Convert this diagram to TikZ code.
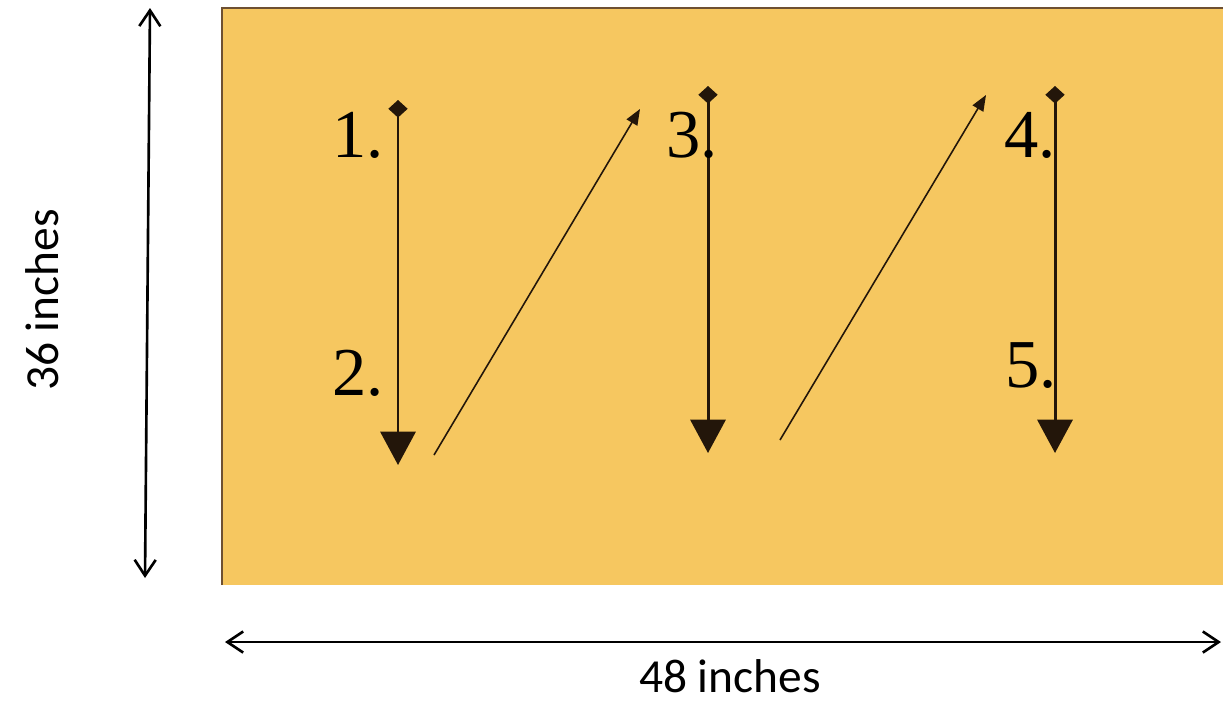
\documentclass[tikz,border=0pt]{standalone}
\usepackage{fontspec}
\setmainfont{Liberation Serif}
\newfontfamily\dimfont{Carlito}
\usetikzlibrary{arrows.meta}
\definecolor{boardfill}{RGB}{246,199,96}
\definecolor{boardedge}{RGB}{110,80,50}
\definecolor{inkline}{RGB}{35,22,10}
\begin{document}
\begin{tikzpicture}[x=0.02cm,y=-0.02cm,
    stroke/.style={draw=inkline,line width=1.7pt,{Diamond[width=11pt,length=10pt]}-{Triangle[width=20pt,length=19pt]}},
    jump/.style={draw=inkline,line width=0.9pt,-{Triangle[width=7pt,length=9pt]}},
    dimline/.style={line width=1.5pt,{Straight Barb[length=9pt,width=12pt]}-{Straight Barb[length=9pt,width=12pt]}},
    numlabel/.style={font=\fontsize{39}{42}\selectfont,inner sep=0pt,anchor=base west},
    dimlabel/.style={font=\dimfont\fontsize{27}{30}\selectfont,inner sep=0pt}]
  \useasboundingbox (0,0) rectangle (1223,704);
  % board
  \fill[boardfill] (222,8) rectangle (1223,585);
  \draw[boardedge,line width=1.2pt] (222,585) -- (222,8) -- (1223,8);
  % end points
  \coordinate (top1) at (398,100);
  \coordinate (bot1) at (398,465);
  \coordinate (top3) at (708,86);
  \coordinate (bot3) at (708,453);
  \coordinate (top4) at (1055,86);
  \coordinate (bot4) at (1055,453);
  \coordinate (jumpA) at (434,455);
  \coordinate (jumpB) at (640,109);
  \coordinate (jumpC) at (780,440);
  \coordinate (jumpD) at (986,95);
  % strokes
  \draw[stroke] (top1) -- (bot1);
  \draw[stroke] (top3) -- (bot3);
  \draw[stroke] (top4) -- (bot4);
  \draw[jump] (jumpA) -- (jumpB);
  \draw[jump] (jumpC) -- (jumpD);
  % numbers
  \node[numlabel] (one) at (332,157) {1.};
  \node[numlabel] (two) at (332,395) {2.};
  \node[numlabel] (three) at (666,157) {3.};
  \node[numlabel] (four) at (1004,157) {4.};
  \node[numlabel] (five) at (1005,387) {5.};
  % dimensions
  \coordinate (htop) at (150,8);
  \coordinate (hbot) at (145,578);
  \coordinate (wleft) at (225,642);
  \coordinate (wright) at (1221,642);
  \draw[dimline] (htop) -- (hbot);
  \draw[dimline] (wleft) -- (wright);
  \node[dimlabel,rotate=90] (height) at (42,300) {36 inches};
  \node[dimlabel] (width) at (730,676) {48 inches};
\end{tikzpicture}
\end{document}
